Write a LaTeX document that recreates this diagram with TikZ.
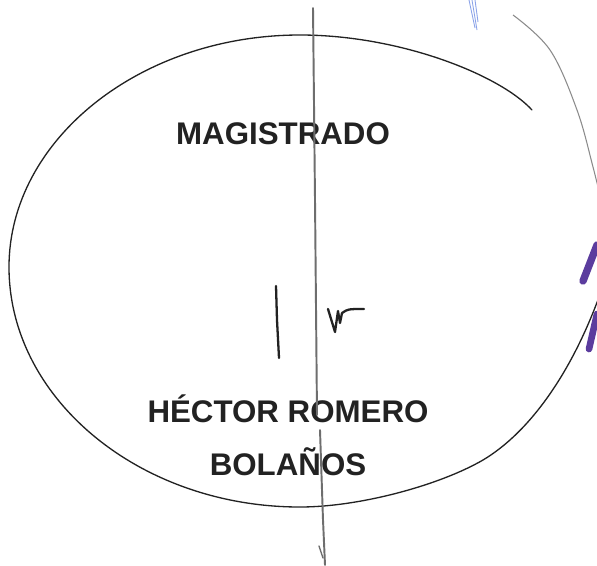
\documentclass[tikz,border=0pt]{standalone}
\usepackage{fontspec}
\setmainfont{Liberation Sans}
\definecolor{ink}{HTML}{222222}
\definecolor{pencil}{HTML}{6E6E6E}
\definecolor{purplemark}{HTML}{5B3C9E}
\definecolor{bluemark}{HTML}{5A7BE0}
\begin{document}
\begin{tikzpicture}[x=0.02cm,y=-0.02cm,
  label/.style={font=\fontsize{17.8pt}{20pt}\selectfont\bfseries, text=ink, inner sep=0pt},
  ovalline/.style={draw=ink, line width=0.75pt, line cap=round},
  penline/.style={draw=pencil, line width=1.1pt, line cap=round},
  marker/.style={draw=purplemark, line width=4.2pt, line cap=round}]
\useasboundingbox (0,0) rectangle (597,565);
\clip (0,0) rectangle (597,565);
\fill[white] (0,0) rectangle (597,565);
% oval
\draw[ovalline] (532,110) .. controls (500,75) and (400,35) .. (300,35)
  .. controls (140,35) and (9,140) .. (9,267)
  .. controls (9,399) and (140,507) .. (300,507)
  .. controls (360,507) and (440,485) .. (483,460)
  .. controls (530,432) and (575,370) .. (605,280);
% outer right arc
\draw[draw=pencil!80, line width=0.6pt] plot[smooth, tension=0.6] coordinates {(513,15) (550,50) (577,110) (593,167) (601,200)};
% blue trace at top
\draw[bluemark!70, line width=0.5pt] (469,0) -- (475,28) (472,0) -- (477,30) (475,0) -- (478,22);
% purple marks
\draw[marker] (597,245) -- (583,281);
\draw[marker, line width=3.8pt] (597,314) -- (589,349);
% texts
\node[label] (mag) at (283,134) {MAGISTRADO};
\node[label] (name1) at (288,409) {HÉCTOR ROMERO};
\node[label] (name2) at (288,462) {BOLAÑOS};
% signature strokes
\draw[penline] (313,8) -- (315,200) -- (317,415);
\draw[penline] (320,430) -- (323,520) -- (325,565);
\draw[penline, line width=0.8pt] (319,546) -- (323,558);
\draw[draw=ink, line width=1.3pt, line cap=round] (276,286) -- (277,320) -- (279,358);
\draw[draw=ink, line width=1.3pt, line cap=round, line join=round] (328,309) -- (335,332) -- (338,311) -- (340,323) -- (342,313) .. controls (348,309) .. (364,309);
\end{tikzpicture}
\end{document}
